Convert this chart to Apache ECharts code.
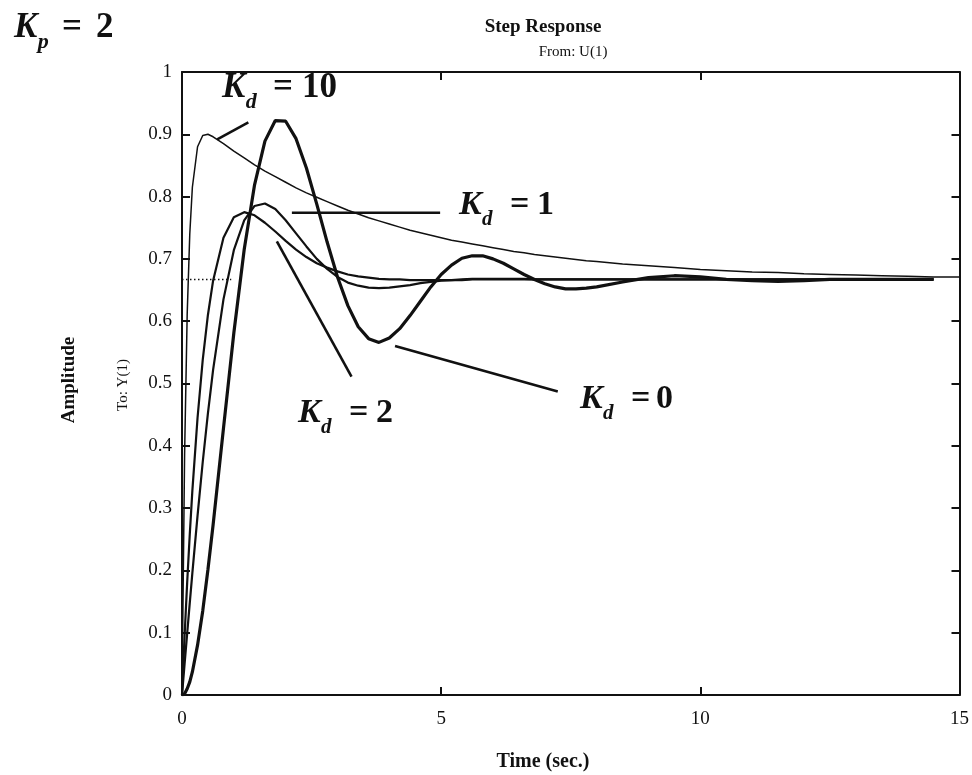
<!DOCTYPE html>
<html>
<head>
<meta charset="utf-8">
<title>Step Response</title>
<script src="https://cdn.jsdelivr.net/npm/echarts@6/dist/echarts.min.js"></script>
<style>
  html, body { margin: 0; padding: 0; background: #ffffff; }
  #chart { width: 972px; height: 775px; }
</style>
</head>
<body>
<div id="chart"></div>
<script>
// Sample times (s) shared by all responses
const time = [0, 0.05, 0.1, 0.15, 0.2, 0.3, 0.4, 0.5, 0.6, 0.8,
  1.0, 1.2, 1.4, 1.6, 1.8, 2.0, 2.2, 2.4, 2.6, 2.8,
  3.0, 3.2, 3.4, 3.6, 3.8, 4.0, 4.2, 4.4, 4.6, 4.8,
  5.0, 5.2, 5.4, 5.6, 5.8, 6.0, 6.2, 6.4, 6.6, 6.8,
  7.0, 7.2, 7.4, 7.6, 7.8, 8.0,
  8.5, 9.0, 9.5, 10, 10.5, 11, 11.5, 12, 12.5, 13, 13.5, 14, 14.5, 15];

// Step responses for Kp = 2 and several derivative gains
const respKd0 = [0, 0.002, 0.010, 0.021, 0.037, 0.080, 0.135, 0.201, 0.273, 0.428,
  0.581, 0.715, 0.819, 0.889, 0.922, 0.921, 0.893, 0.846, 0.788, 0.727,
  0.671, 0.625, 0.591, 0.572, 0.566, 0.573, 0.588, 0.609, 0.632, 0.655,
  0.675, 0.690, 0.701, 0.705, 0.705, 0.700, 0.693, 0.684, 0.675, 0.667,
  0.660, 0.655, 0.652, 0.652, 0.653, 0.655,
  0.663, 0.670, 0.673, 0.671, 0.667, 0.665, 0.664, 0.665, 0.667, 0.667, 0.667, 0.667, 0.667, null];

const respKd1 = [0, 0.050, 0.099, 0.148, 0.196, 0.288, 0.374, 0.452, 0.522, 0.635,
  0.714, 0.762, 0.785, 0.789, 0.780, 0.762, 0.741, 0.720, 0.700, 0.684,
  0.671, 0.662, 0.657, 0.654, 0.653, 0.654, 0.656, 0.658, 0.661, 0.663,
  0.665, 0.666, 0.667, 0.668, 0.668, 0.668, 0.668, 0.668, 0.668, 0.667,
  0.667, 0.667, 0.667, 0.667, 0.667, 0.667,
  0.667, 0.667, 0.667, 0.667, 0.667, 0.667, 0.667, 0.667, 0.667, 0.667, 0.667, 0.667, 0.667, null];

const respKd2 = [0, 0.095, 0.181, 0.258, 0.328, 0.445, 0.538, 0.610, 0.665, 0.734,
  0.767, 0.775, 0.770, 0.758, 0.744, 0.729, 0.715, 0.703, 0.693, 0.686,
  0.680, 0.675, 0.672, 0.670, 0.668, 0.667, 0.667, 0.666, 0.666, 0.666,
  0.666, 0.666, 0.666, 0.667, 0.667, 0.667, 0.667, 0.667, 0.667, 0.667,
  0.667, 0.667, 0.667, 0.667, 0.667, 0.667,
  0.667, 0.667, 0.667, 0.667, 0.667, 0.667, 0.667, 0.667, 0.667, 0.667, 0.667, 0.667, 0.667, null];

const respKd10 = [0, 0.386, 0.611, 0.740, 0.815, 0.880, 0.898, 0.900, 0.896, 0.885,
  0.873, 0.862, 0.851, 0.841, 0.832, 0.823, 0.814, 0.806, 0.799, 0.792,
  0.785, 0.778, 0.772, 0.766, 0.761, 0.756, 0.751, 0.746, 0.742, 0.738,
  0.734, 0.730, 0.727, 0.724, 0.721, 0.718, 0.715, 0.712, 0.710, 0.707,
  0.705, 0.703, 0.701, 0.699, 0.697, 0.696,
  0.692, 0.689, 0.686, 0.683, 0.681, 0.679, 0.678, 0.676, 0.675, 0.674, 0.673, 0.672, 0.671, 0.671];

// Final value marker (dotted) near the origin
const finalTime = [0, 0.95];
const finalValue = [0.667, 0.667];

// Leader lines from each label to its curve, in (time, amplitude)
const leaderKd10 = [[0.68, 0.892], [1.28, 0.919]];
const leaderKd1 = [[2.12, 0.774], [4.98, 0.774]];
const leaderKd2 = [[1.83, 0.728], [3.27, 0.511]];
const leaderKd0 = [[4.11, 0.560], [7.25, 0.487]];

const xTicks = { min: 0, max: 15, interval: 5 };
const yTicks = { min: 0, max: 1, interval: 0.1 };

const SERIF = '"Liberation Serif", "Times New Roman", serif';
const INK = '#111111';

function pairs(xs, ys) {
  return xs.map((x, i) => [x, ys[i]]);
}

function curve(name, values, width) {
  return {
    name: name,
    type: 'line',
    data: pairs(time, values),
    showSymbol: false,
    symbol: 'none',
    connectNulls: false,
    lineStyle: { color: INK, width: width },
    z: 3
  };
}

function leader(points) {
  return {
    type: 'line',
    data: points,
    showSymbol: false,
    symbol: 'none',
    lineStyle: { color: INK, width: 2.6 },
    z: 4
  };
}

function txt(x, y, text, font, opts) {
  opts = opts || {};
  return {
    type: 'text',
    x: x,
    y: y,
    rotation: opts.rotation || 0,
    silent: true,
    style: {
      text: text,
      font: font,
      fill: INK,
      align: opts.align || 'left',
      verticalAlign: 'middle',
      textAlign: opts.align || 'left',
      textVerticalAlign: 'middle'
    }
  };
}

// Gain label such as K_d = 10: italic K, subscript, then "= value"
function gainLabel(x, base, sub, value, size, eqOff, numOff) {
  const subSize = Math.round(size * 0.62);
  const mid = (b, s) => b - 0.34 * s;
  return [
    txt(x, mid(base, size), 'K', 'bold italic ' + size + 'px ' + SERIF),
    txt(x + 0.68 * size, mid(base + 10, subSize), sub, 'bold italic ' + subSize + 'px ' + SERIF),
    txt(x + eqOff, mid(base, size), '=', 'bold ' + size + 'px ' + SERIF),
    txt(x + numOff, mid(base, size), value, 'bold ' + size + 'px ' + SERIF)
  ];
}

const chart = echarts.init(document.getElementById('chart'), null, { renderer: 'canvas' });

const axisLineStyle = { color: INK, width: 2 };
const tickStyle = { color: INK, width: 2 };

const option = {
  animation: false,
  backgroundColor: '#ffffff',
  grid: { left: 182, right: 8, top: 72, bottom: 80 },
  xAxis: [
    {
      type: 'value', position: 'bottom',
      min: xTicks.min, max: xTicks.max, interval: xTicks.interval,
      axisLine: { show: true, onZero: false, lineStyle: axisLineStyle },
      axisTick: { show: true, inside: true, length: 8, lineStyle: tickStyle },
      axisLabel: { color: INK, fontFamily: SERIF, fontSize: 19, margin: 15 },
      splitLine: { show: false }
    },
    {
      type: 'value', position: 'top',
      min: xTicks.min, max: xTicks.max, interval: xTicks.interval,
      axisLine: { show: true, onZero: false, lineStyle: axisLineStyle },
      axisTick: { show: true, inside: true, length: 8, lineStyle: tickStyle },
      axisLabel: { show: false },
      splitLine: { show: false }
    }
  ],
  yAxis: [
    {
      type: 'value', position: 'left',
      min: yTicks.min, max: yTicks.max, interval: yTicks.interval,
      axisLine: { show: true, onZero: false, lineStyle: axisLineStyle },
      axisTick: { show: true, inside: true, length: 8, lineStyle: tickStyle },
      axisLabel: { color: INK, fontFamily: SERIF, fontSize: 19, margin: 10 },
      splitLine: { show: false }
    },
    {
      type: 'value', position: 'right',
      min: yTicks.min, max: yTicks.max, interval: yTicks.interval,
      axisLine: { show: true, onZero: false, lineStyle: axisLineStyle },
      axisTick: { show: true, inside: true, length: 8, lineStyle: tickStyle },
      axisLabel: { show: false },
      splitLine: { show: false }
    }
  ],
  series: [
    {
      type: 'line',
      data: pairs(finalTime, finalValue),
      showSymbol: false,
      symbol: 'none',
      lineStyle: { color: INK, width: 1.5, type: [1.5, 2.5] },
      z: 2
    },
    curve('Kd = 0', respKd0, 3.2),
    curve('Kd = 1', respKd1, 2.2),
    curve('Kd = 2', respKd2, 2.2),
    curve('Kd = 10', respKd10, 1.5),
    leader(leaderKd10),
    leader(leaderKd1),
    leader(leaderKd2),
    leader(leaderKd0)
  ],
  graphic: {
    elements: [
      txt(543, 27, 'Step Response', 'bold 19px ' + SERIF, { align: 'center' }),
      txt(573, 52, 'From: U(1)', '15px ' + SERIF, { align: 'center' }),
      txt(543, 762, 'Time (sec.)', 'bold 20px ' + SERIF, { align: 'center' }),
      txt(69, 380, 'Amplitude', 'bold 19px ' + SERIF, { align: 'center', rotation: Math.PI / 2 }),
      txt(123, 385, 'To: Y(1)', '15px ' + SERIF, { align: 'center', rotation: Math.PI / 2 })
    ]
      .concat(gainLabel(14, 40, 'p', '2', 35, 48, 82))
      .concat(gainLabel(222, 100, 'd', '10', 35, 51, 80))
      .concat(gainLabel(459, 217, 'd', '1', 34, 51, 78))
      .concat(gainLabel(298, 425, 'd', '2', 34, 51, 78))
      .concat(gainLabel(580, 411, 'd', '0', 34, 51, 76))
  }
};

chart.setOption(option);
</script>
</body>
</html>
